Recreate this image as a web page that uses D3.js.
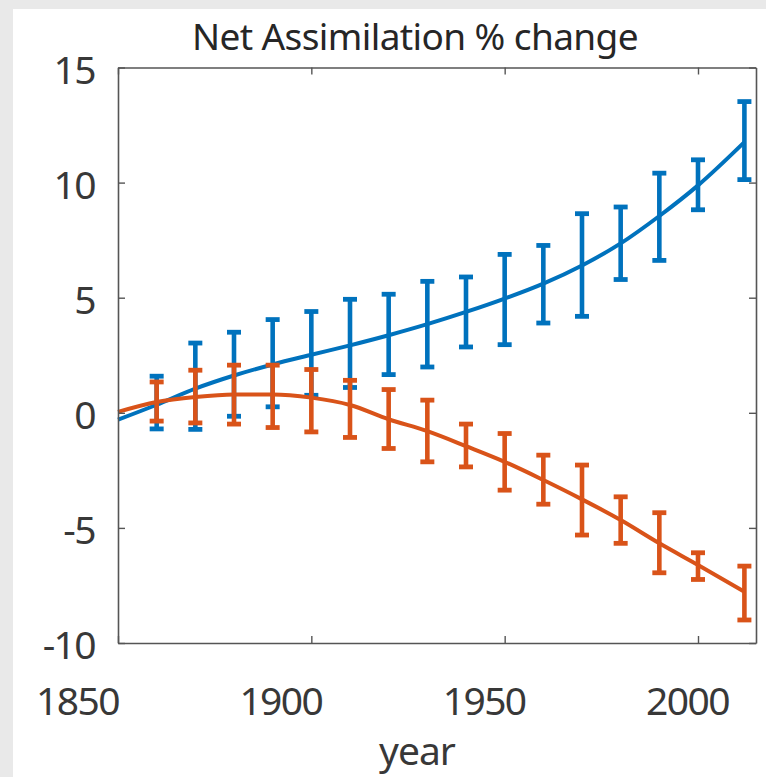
<!DOCTYPE html>
<html>
<head>
<meta charset="utf-8">
<script src="https://cdn.jsdelivr.net/npm/d3@7"></script>
<style>
  html, body { margin: 0; padding: 0; background: #e9e9e9; }
  svg { display: block; }
  text { font-family: "Noto Sans", "Open Sans", sans-serif; }
</style>
</head>
<body>
<svg id="chart" width="766" height="777"></svg>
<script>
// Decades at which the ensemble spread is shown, plus the final year
const barYears = [1860, 1870, 1880, 1890, 1900, 1910, 1920, 1930, 1940, 1950, 1960, 1970, 1980, 1990, 2000, 2012];

// Blue series: error bar bounds (% change)
const blueLow  = [-0.70, -0.72, -0.15, 0.26, 0.76, 1.10, 1.66, 1.99, 2.86, 2.96, 3.90, 4.19, 5.79, 6.62, 8.82, 10.13];
const blueHigh = [1.59, 3.03, 3.50, 4.05, 4.40, 4.93, 5.15, 5.71, 5.90, 6.88, 7.27, 8.65, 8.94, 10.41, 10.99, 13.52];

// Orange series: error bar bounds (% change)
const orangeLow  = [-0.36, -0.44, -0.49, -0.64, -0.83, -1.07, -1.55, -2.13, -2.35, -3.36, -3.97, -5.31, -5.67, -6.95, -7.24, -9.00];
const orangeHigh = [1.34, 1.85, 2.07, 2.07, 1.88, 1.41, 1.01, 0.55, -0.49, -0.90, -1.84, -2.27, -3.65, -4.34, -6.08, -6.66];

// Fitted smooth trends
const fitYears  = [1850, 1860, 1870, 1880, 1890, 1900, 1910, 1920, 1930, 1940, 1950, 1960, 1970, 1980, 1990, 2000, 2012];
const blueFit   = [-0.30, 0.35, 1.05, 1.62, 2.10, 2.52, 2.93, 3.37, 3.85, 4.38, 4.96, 5.61, 6.40, 7.36, 8.55, 9.88, 11.76];
const orangeFit = [0.04, 0.47, 0.69, 0.80, 0.80, 0.66, 0.34, -0.28, -0.80, -1.45, -2.13, -2.92, -3.76, -4.66, -5.67, -6.61, -7.77];

// Axis ticks
const xTicks = [1850, 1900, 1950, 2000];
const yTicks = [-10, -5, 0, 5, 10, 15];

const title = "Net Assimilation % change";
const xLabel = "year";

const colors = { blue: "#0072BD", orange: "#D95319" };

const svg = d3.select("#chart");
const W = 766, H = 777;

// Page panel
svg.append("rect").attr("x", 13).attr("y", 9).attr("width", W - 13).attr("height", H - 9).attr("fill", "#ffffff");

const plot = { left: 118, right: 756, top: 67.5, bottom: 643 };

const x = d3.scaleLinear().domain([1850, 2015]).range([plot.left, plot.right]);
const y = d3.scaleLinear().domain([-10, 15]).range([plot.bottom, plot.top]);
// Tick labels are spread slightly wider than the ticks themselves
const xLabelPos = d3.scaleLinear().domain([1850, 2000]).range([77.5, 687.5]);

const axisColor = "#555555";
const textColor = "#383838";

// Series: fitted curve plus error bars with caps
function drawSeries(lowArr, highArr, fit, color) {
  const g = svg.append("g");
  const line = d3.line().x((d, i) => x(fitYears[i])).y(d => y(d)).curve(d3.curveMonotoneX);
  g.append("path").datum(fit)
    .attr("d", line)
    .attr("fill", "none")
    .attr("stroke", color)
    .attr("stroke-width", 4);

  const bars = g.selectAll("g.bar").data(barYears.map((yr, i) => ({ yr, lo: lowArr[i], hi: highArr[i] })))
    .enter().append("g").attr("class", "bar");
  bars.append("line")
    .attr("x1", d => x(d.yr)).attr("x2", d => x(d.yr))
    .attr("y1", d => y(d.lo)).attr("y2", d => y(d.hi))
    .attr("stroke", color).attr("stroke-width", 4.6);
  ["lo", "hi"].forEach(k => {
    bars.append("line")
      .attr("x1", d => x(d.yr) - 7).attr("x2", d => x(d.yr) + 7)
      .attr("y1", d => y(d[k])).attr("y2", d => y(d[k]))
      .attr("stroke", color).attr("stroke-width", 4.8);
  });
}

drawSeries(blueLow, blueHigh, blueFit, colors.blue);
drawSeries(orangeLow, orangeHigh, orangeFit, colors.orange);

// Axes box with inward ticks on all sides
const tickLen = 7;
const axes = svg.append("g");
axes.append("g").attr("transform", `translate(0,${plot.bottom})`)
  .call(d3.axisBottom(x).tickValues(xTicks).tickSizeInner(-tickLen).tickSizeOuter(0).tickFormat(""));
axes.append("g").attr("transform", `translate(0,${plot.top})`)
  .call(d3.axisTop(x).tickValues(xTicks).tickSizeInner(-tickLen).tickSizeOuter(0).tickFormat(""));
axes.append("g").attr("transform", `translate(${plot.left},0)`)
  .call(d3.axisLeft(y).tickValues(yTicks).tickSizeInner(-tickLen).tickSizeOuter(0).tickFormat(""));
axes.append("g").attr("transform", `translate(${plot.right},0)`)
  .call(d3.axisRight(y).tickValues(yTicks).tickSizeInner(-tickLen).tickSizeOuter(0).tickFormat(""));
axes.selectAll("path.domain").attr("stroke", axisColor).attr("stroke-width", 1.6);
axes.selectAll(".tick line").attr("stroke", axisColor).attr("stroke-width", 1.4);

// Tick labels
svg.append("g").selectAll("text").data(xTicks).enter().append("text")
  .attr("x", d => xLabelPos(d)).attr("y", 715)
  .attr("text-anchor", "middle")
  .attr("font-size", 39).attr("letter-spacing", -1.6)
  .attr("fill", textColor)
  .text(d => d);

svg.append("g").selectAll("text").data(yTicks).enter().append("text")
  .attr("x", 95).attr("y", d => y(d) + 16)
  .attr("text-anchor", "end")
  .attr("font-size", 39).attr("letter-spacing", -1.6)
  .attr("fill", textColor)
  .text(d => d);

// Title and axis label
svg.append("text").attr("x", 415).attr("y", 50).attr("text-anchor", "middle")
  .attr("font-size", 37).attr("letter-spacing", -0.6).attr("fill", "#262626").text(title);
svg.append("text").attr("x", 417).attr("y", 765).attr("text-anchor", "middle")
  .attr("font-size", 39).attr("letter-spacing", -1).attr("fill", textColor).text(xLabel);
</script>
</body>
</html>
